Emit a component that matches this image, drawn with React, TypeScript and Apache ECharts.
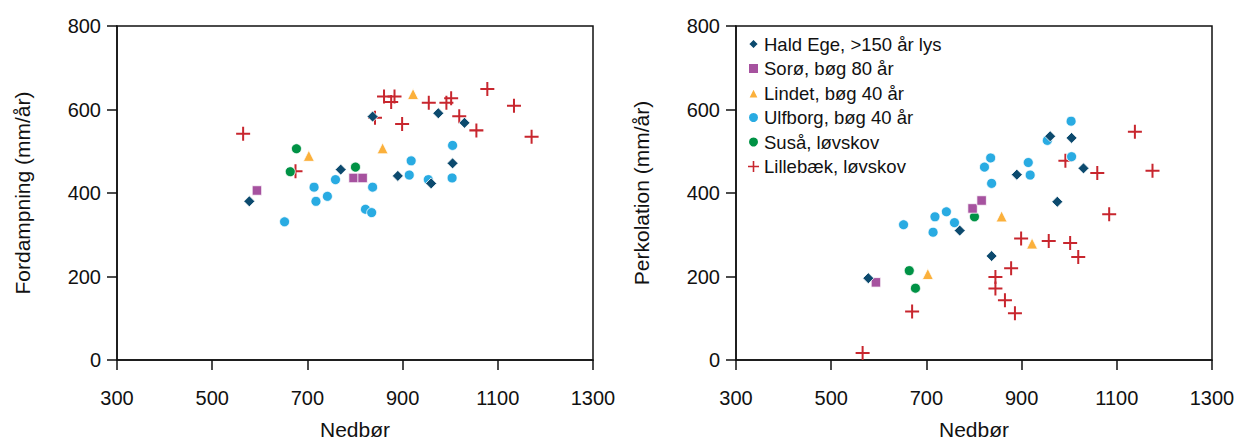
import React, { useEffect, useRef } from "react";
import * as echarts from "echarts";

const siteNames = [
  "Hald Ege, >150 år lys",
  "Sorø, bøg 80 år",
  "Lindet, bøg 40 år",
  "Ulfborg, bøg 40 år",
  "Suså, løvskov",
  "Lillebæk, løvskov",
];

const xTicks = [300, 500, 700, 900, 1100, 1300];
const yTicks = [0, 200, 400, 600, 800];

// Hald Ege
const haldPrecip = [578, 770, 837, 890, 960, 975, 1005, 1030];
const haldEvap = [380, 456, 583, 441, 423, 591, 471, 568];
const haldPerc = [196, 310, 249, 444, 536, 379, 532, 459];

// Sorø
const soroPrecip = [594, 797, 816];
const soroEvap = [406, 436, 436];
const soroPerc = [186, 363, 382];

// Lindet
const lindetPrecip = [703, 858, 922];
const lindetEvap = [489, 507, 637];
const lindetPerc = [206, 344, 279];

// Ulfborg
const ulfPrecip = [652, 714, 718, 742, 759, 822, 835, 837, 914, 918, 954, 1004, 1005];
const ulfEvap = [331, 414, 380, 392, 432, 361, 353, 414, 443, 477, 432, 436, 514];
const ulfPerc = [324, 306, 343, 355, 329, 462, 484, 423, 473, 443, 526, 572, 487];

// Suså
const susaPrecip = [664, 677, 801];
const susaEvap = [451, 506, 462];
const susaPerc = [214, 172, 343];

// Lillebæk (read separately per panel)
const lillePrecipA = [565, 675, 842, 861, 876, 883, 899, 955, 992, 1002, 1019, 1055, 1078, 1134, 1171];
const lilleEvap = [542, 452, 580, 631, 618, 631, 565, 616, 616, 627, 584, 550, 649, 609, 535];
const lillePrecipB = [566, 670, 845, 845, 865, 878, 886, 899, 957, 992, 1002, 1019, 1059, 1084, 1138, 1175];
const lillePerc = [17, 116, 199, 171, 143, 220, 112, 291, 285, 477, 280, 247, 448, 349, 547, 453];

const zip = (xs: number[], ys: number[]) => xs.map((x, i) => [x, ys[i]]);

const INK = "#111111";
const FONT = "Liberation Sans, Arial, Helvetica, sans-serif";
const plusPath = "path://M-1,-7H1V-1H7V1H1V7H-1V1H-7V-1H-1Z";

const styles = [
  { symbol: "diamond", size: 11, color: "#0c4a6e" },
  { symbol: "rect", size: 9.5, color: "#a6529f" },
  { symbol: "triangle", size: 11, color: "#fbb03b" },
  { symbol: "circle", size: 10, color: "#29abe2" },
  { symbol: "circle", size: 10, color: "#009245" },
  { symbol: plusPath, size: 14, color: "#c8262e" },
];

export default function App() {
  const ref = useRef<HTMLDivElement>(null);
  useEffect(() => {
    const chart = echarts.init(ref.current!, null, { renderer: "svg" });

    const xAxis = (gridIndex: number) => ({
      type: "value",
      gridIndex,
      min: xTicks[0],
      max: xTicks[xTicks.length - 1],
      interval: 200,
      name: "Nedbør",
      nameLocation: "middle",
      nameGap: 59,
      nameTextStyle: { fontSize: 21, fontFamily: FONT, color: INK },
      axisLine: { onZero: false, lineStyle: { color: INK, width: 1.5 } },
      axisTick: { length: 10, lineStyle: { color: INK, width: 1.5 } },
      axisLabel: {
        fontSize: 20,
        fontFamily: FONT,
        color: INK,
        margin: 28,
        formatter: (v: number) => String(v),
      },
      splitLine: { show: false },
    });
    const yAxis = (gridIndex: number, name: string) => ({
      type: "value",
      gridIndex,
      min: yTicks[0],
      max: yTicks[yTicks.length - 1],
      interval: 200,
      name,
      nameLocation: "middle",
      nameGap: 84,
      nameTextStyle: { fontSize: 21, fontFamily: FONT, color: INK },
      axisLine: { onZero: false, lineStyle: { color: INK, width: 1.5 } },
      axisTick: { length: 10, lineStyle: { color: INK, width: 1.5 } },
      axisLabel: {
        fontSize: 20,
        fontFamily: FONT,
        color: INK,
        margin: 16,
        formatter: (v: number) => String(v),
      },
      splitLine: { show: false },
    });

    const leftData = [
      zip(haldPrecip, haldEvap),
      zip(soroPrecip, soroEvap),
      zip(lindetPrecip, lindetEvap),
      zip(ulfPrecip, ulfEvap),
      zip(susaPrecip, susaEvap),
      zip(lillePrecipA, lilleEvap),
    ];
    const rightData = [
      zip(haldPrecip, haldPerc),
      zip(soroPrecip, soroPerc),
      zip(lindetPrecip, lindetPerc),
      zip(ulfPrecip, ulfPerc),
      zip(susaPrecip, susaPerc),
      zip(lillePrecipB, lillePerc),
    ];
    // draw order bottom -> top
    const drawOrder = [5, 4, 3, 2, 1, 0];
    const series: any[] = [];
    [leftData, rightData].forEach((panel, gi) => {
      drawOrder.forEach((k) => {
        const st = styles[k];
        series.push({
          type: "scatter",
          name: siteNames[k],
          xAxisIndex: gi,
          yAxisIndex: gi,
          data: panel[k],
          symbol: st.symbol,
          symbolSize: st.size,
          itemStyle: {
            color: st.color,
            opacity: 1,
            borderColor: k === 5 ? "rgba(255,255,255,0)" : "#ffffff",
            borderWidth: k === 5 ? 0 : 0.8,
          },
          emphasis: { disabled: true },
        });
      });
    });

    chart.setOption({
      animation: false,
      backgroundColor: "#ffffff",
      grid: [
        { left: 117, top: 26, width: 476, height: 340, show: true, borderColor: INK, borderWidth: 1.5 },
        { left: 736, top: 26, width: 476, height: 340, show: true, borderColor: INK, borderWidth: 1.5 },
      ],
      xAxis: [xAxis(0), xAxis(1)],
      yAxis: [yAxis(0, "Fordampning (mm/år)"), yAxis(1, "Perkolation (mm/år)")],
      legend: {
        orient: "vertical",
        left: 742,
        top: 29,
        itemWidth: 11,
        itemHeight: 11,
        itemGap: 4.5,
        selectedMode: false,
        data: siteNames,
        textStyle: { fontSize: 18.5, fontFamily: FONT, color: INK, lineHeight: 20 },
      },
      series,
    });
    return () => chart.dispose();
  }, []);
  return (
    <div
      ref={ref}
      style={{ position: "fixed", left: 0, top: 0, width: 1238, height: 445, background: "#fff" }}
    />
  );
}
